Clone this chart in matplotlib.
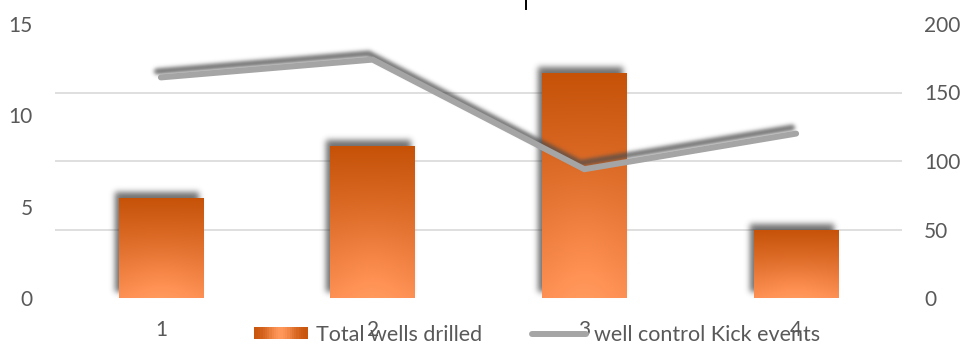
import numpy as np
import matplotlib
matplotlib.use("Agg")
import matplotlib.pyplot as plt
from matplotlib.lines import Line2D
from matplotlib.patches import Patch, Rectangle
from matplotlib.legend_handler import HandlerBase

# ---- data -------------------------------------------------------------
categories = ["1", "2", "3", "4"]
wells_drilled = [5.5, 8.3, 12.3, 3.75]          # left axis
kick_events = [161, 174, 94, 120]               # right axis
left_ticks = [0, 5, 10, 15]
right_ticks = [0, 50, 100, 150, 200]
series_names = ["Total wells drilled", "well control Kick events"]

# ---- style ------------------------------------------------------------
plt.rcParams["font.family"] = ["Lato", "DejaVu Sans"]
TEXT = "#595959"
GRID = "#D9D9D9"
LINE = "#A5A5A5"
BAR_TOP = np.array([0xC6, 0x52, 0x08]) / 255
BAR_BOT = np.array([0xF9, 0x8C, 0x50]) / 255
FS = 15
LEG_FS = 15.5


def _blur1d(a, sigma, axis):
    r = max(1, int(3 * sigma))
    k = np.exp(-0.5 * (np.arange(-r, r + 1) / sigma) ** 2)
    k /= k.sum()
    pad = [(0, 0)] * a.ndim
    pad[axis] = (r, r)
    p = np.pad(a, pad)
    out = np.zeros_like(a)
    n = a.shape[axis]
    for i, w in enumerate(k):
        sl = [slice(None)] * a.ndim
        sl[axis] = slice(i, i + n)
        out += w * p[tuple(sl)]
    return out


class DropShadow:
    """agg_filter: blurred, offset silhouette of the artist."""

    def __init__(self, sigma_px=2.5, alpha=0.75, dx_px=-4, dy_px=-6, grey=0.15):
        self.sigma = sigma_px
        self.alpha = alpha
        self.dx = dx_px
        self.dy = dy_px
        self.grey = grey

    def __call__(self, im, dpi):
        pad = int(3 * self.sigma + max(abs(self.dx), abs(self.dy))) + 2
        src = np.pad(im, [(pad, pad), (pad, pad), (0, 0)])
        a = src[:, :, 3] * self.alpha
        a = _blur1d(_blur1d(a, self.sigma, 0), self.sigma, 1)
        a = np.roll(np.roll(a, self.dy, axis=0), self.dx, axis=1)
        out = np.zeros_like(src)
        out[:, :, :3] = self.grey
        out[:, :, 3] = a
        return out, -pad, -pad


def bar_gradient(nx=60, ny=120):
    t = np.linspace(0, 1, ny)[:, None]
    xs = np.linspace(-1, 1, nx)[None, :]
    rgb = BAR_TOP[None, None, :] * (1 - t[..., None]) + BAR_BOT[None, None, :] * t[..., None]
    glow = np.exp(-((xs / 0.9) ** 2) - ((t - 1.0) / 0.45) ** 2) * 0.05
    rgb = np.clip(rgb + glow[..., None], 0, 1)
    return rgb


class GradientPatchHandler(HandlerBase):
    """Legend key: orange box, light in the middle and darker at the sides."""

    def create_artists(self, legend, orig_handle, xdescent, ydescent,
                       width, height, fontsize, trans):
        n = 24
        arts = []
        for i in range(n):
            u = (i + 0.5) / n
            w = np.exp(-((u - 0.5) / 0.28) ** 2)
            c = BAR_TOP * (1 - w) + np.clip(BAR_BOT + 0.04, 0, 1) * w
            arts.append(Rectangle((-xdescent + width * i / n, -ydescent),
                                  width / n * 1.05, height, facecolor=c,
                                  edgecolor="none", transform=trans))
        return arts


# ---- figure -----------------------------------------------------------
W, H, DPI = 961, 347, 100
fig = plt.figure(figsize=(W / DPI, H / DPI), dpi=DPI)
x0, x1, ytop, ybot = 55, 902, 24, 298
ax = fig.add_axes([x0 / W, 1 - ybot / H, (x1 - x0) / W, (ybot - ytop) / H])
ax2 = ax.twinx()

x = np.arange(len(categories))
bw = 0.40

# bar shadows
shadow_bars = ax.bar(x, wells_drilled, width=bw, color="black", zorder=2)
for p in shadow_bars:
    p.set_agg_filter(DropShadow(sigma_px=3.0, alpha=0.7, dx_px=-4, dy_px=-6, grey=0.2))
    p.set_rasterized(True)

# bars with gradient fill
bars = ax.bar(x, wells_drilled, width=bw, color="none", zorder=3)
grad = bar_gradient()
for p in bars:
    bx, by = p.get_x(), p.get_y()
    im = ax.imshow(grad, extent=[bx, bx + p.get_width(), by, by + p.get_height()],
                   aspect="auto", zorder=3, interpolation="bilinear")
    im.set_clip_path(p)

# line with its shadow
sh, = ax2.plot(x, kick_events, color="black", lw=4.3, solid_capstyle="round",
               solid_joinstyle="miter", zorder=2)
sh.set_agg_filter(DropShadow(sigma_px=2.0, alpha=0.8, dx_px=-4, dy_px=-6, grey=0.3))
sh.set_rasterized(True)
ax2.plot(x, kick_events, color=LINE, lw=4.3, solid_capstyle="round",
         solid_joinstyle="miter", zorder=3)

# axes
ax.set_xlim(-0.5, len(categories) - 0.5)
ax.set_ylim(left_ticks[0], left_ticks[-1])
ax2.set_ylim(right_ticks[0], right_ticks[-1])
ax.set_xticks(x, categories)
ax.set_yticks(left_ticks)
ax2.set_yticks(right_ticks)
# horizontal gridlines follow the right-axis ticks
ax.set_yticks(np.array(right_ticks) * left_ticks[-1] / right_ticks[-1], minor=True)
ax.grid(False)
ax.grid(True, which="minor", axis="y", color=GRID, lw=1.2, zorder=0)
ax.set_axisbelow(True)

for a in (ax, ax2):
    for s in a.spines.values():
        s.set_visible(False)
    a.tick_params(which="both", length=0, labelsize=FS, colors=TEXT)
ax.tick_params(axis="x", pad=16)
ax.tick_params(axis="y", pad=16)
ax2.tick_params(axis="y", pad=16)

handles = [Patch(facecolor="#EE7A36", edgecolor="none"),
           Line2D([], [], color=LINE, lw=4.3, solid_capstyle="round")]
leg = fig.legend(handles, series_names, loc="center", ncol=2,
                 bbox_to_anchor=(537 / W, 1 - 335 / H), frameon=False,
                 fontsize=LEG_FS, labelcolor=TEXT, handlelength=2.5,
                 handleheight=0.5, handletextpad=0.4, columnspacing=2.3,
                 borderpad=0, borderaxespad=0,
                 handler_map={Patch: GradientPatchHandler()})

# small marker at the top edge
fig.add_artist(Line2D([526 / W, 526 / W], [1, 1 - 9 / H], color="black", lw=1.4))

fig.savefig("out.png", dpi=DPI)
